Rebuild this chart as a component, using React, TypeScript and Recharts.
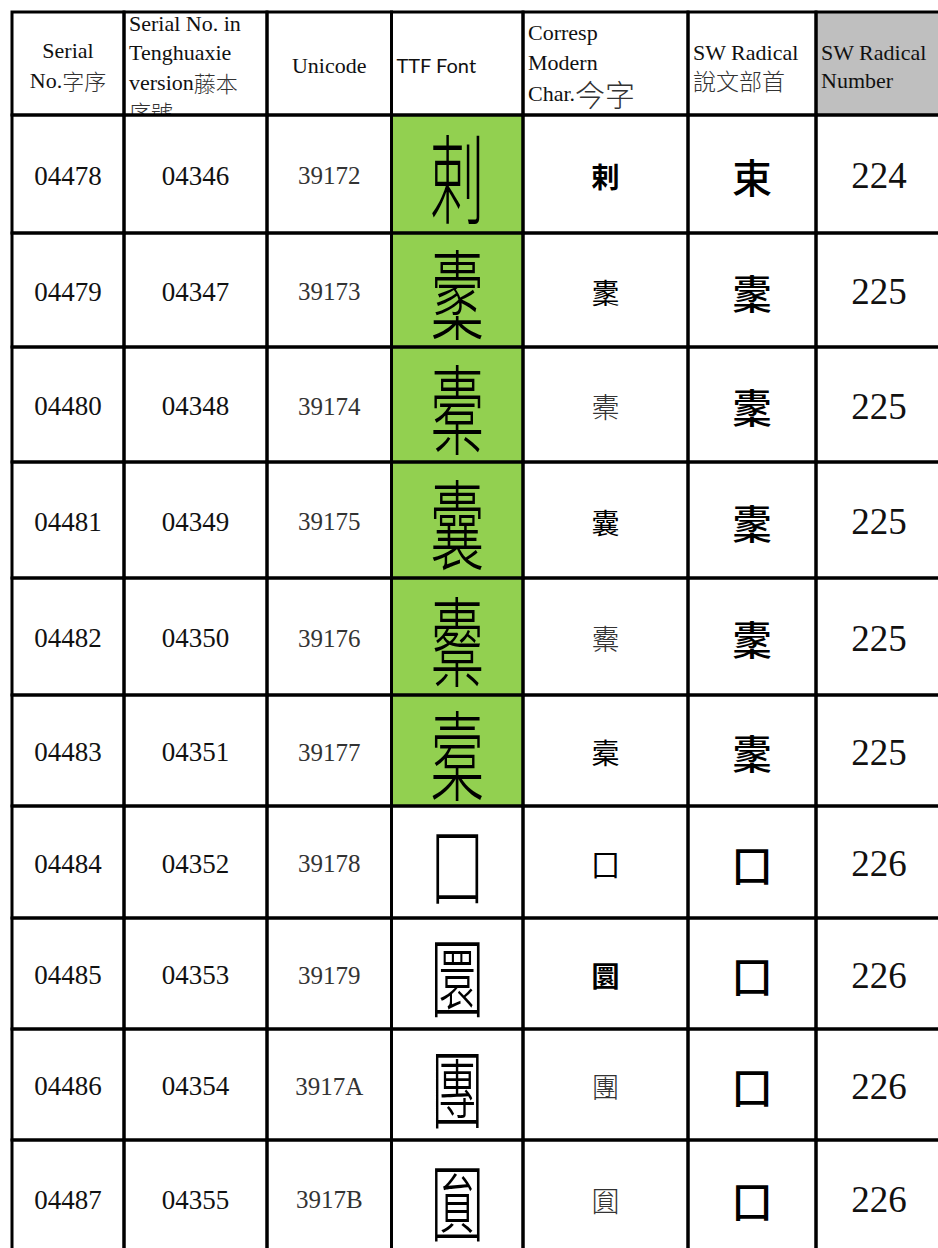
import React from 'react';
import { ScatterChart, Scatter, XAxis, YAxis } from 'recharts';

// table content
const headerLines = [
  ['Serial', 'No.字序'],
  ['Serial No. in', 'Tenghuaxie', 'version藤本', '序號'],
  ['Unicode'],
  ['TTF Font'],
  ['Corresp', 'Modern', 'Char.今字'],
  ['SW Radical', '說文部首'],
  ['SW Radical', 'Number'],
];
const serialNumbers = ['04478', '04479', '04480', '04481', '04482', '04483', '04484', '04485', '04486', '04487'];
const tenghuaNumbers = ['04346', '04347', '04348', '04349', '04350', '04351', '04352', '04353', '04354', '04355'];
const unicodePoints = ['39172', '39173', '39174', '39175', '39176', '39177', '39178', '39179', '3917A', '3917B'];
const sealGlyphs = ['剌', '㯻', '橐', '囊', '櫜', '槖', '囗', '圜', '團', '圎'];
const modernChars = ['剌', '㯻', '橐', '囊', '櫜', '槖', '囗', '圜', '團', '圎'];
const radicals = ['束', '㯻', '㯻', '㯻', '㯻', '㯻', '囗', '囗', '囗', '囗'];
const radicalNumbers = [224, 225, 225, 225, 225, 225, 226, 226, 226, 226];

// layout (pixels of the page)
const COL_EDGES = [12, 124, 267, 391.5, 523, 688, 816, 942];
const ROW_EDGES = [12, 115, 233, 347, 462, 578, 695, 806, 918, 1029, 1140, 1256];
const GREEN_ROWS = 6;
const HEADER_ALIGN = ['middle', 'start', 'middle', 'start', 'start', 'start', 'start'];
const HEADER_LINE_Y = [
  [38, 68],
  [11, 40, 70, 99],
  [53],
  [53],
  [20, 50, 81],
  [40, 68],
  [40, 68],
];
const HEADER_CJK_SIZE = [22, 22, 22, 22, 30, 23, 22];
const MODERN_WEIGHT = [700, 400, 300, 400, 300, 400, 400, 700, 300, 300];
const SEAL_STRETCH = [1.8, 1.8, 1.8, 1.8, 1.8, 1.8, 1.5, 1.6, 1.6, 1.55];

const SERIF = "'Liberation Serif', 'Noto Sans CJK TC', serif";
const CJK = "'Noto Sans CJK TC', sans-serif";

type CellDatum = { x: number; y: number; w: number; h: number; row: number; col: number };

const cells: CellDatum[] = [];
for (let r = 0; r < ROW_EDGES.length - 1; r++) {
  for (let c = 0; c < COL_EDGES.length - 1; c++) {
    cells.push({
      x: (COL_EDGES[c] + COL_EDGES[c + 1]) / 2,
      y: (ROW_EDGES[r] + ROW_EDGES[r + 1]) / 2,
      w: COL_EDGES[c + 1] - COL_EDGES[c],
      h: ROW_EDGES[r + 1] - ROW_EDGES[r],
      row: r,
      col: c,
    });
  }
}

const splitRuns = (s: string) => s.match(/[\u3400-\u9fff]+|[^\u3400-\u9fff]+/g) || [];
const isCjk = (s: string) => /[\u3400-\u9fff]/.test(s);

const HeaderText = ({ col, left, top, w, h, cx }: any) => {
  const clipId = `hclip-${col}`;
  const anchor = HEADER_ALIGN[col];
  const tx = anchor === 'middle' ? cx : left + 5;
  return (
    <g>
      <defs>
        <clipPath id={clipId}>
          <rect x={left} y={top} width={w} height={h} />
        </clipPath>
      </defs>
      <g clipPath={`url(#${clipId})`}>
        {headerLines[col].map((line, i) => (
          <text
            key={i}
            x={tx}
            y={top + HEADER_LINE_Y[col][i]}
            textAnchor={anchor}
            dominantBaseline="central"
            fontFamily={SERIF}
            fontSize={col === 3 ? 20 : 22}
            fill="#111"
          >
            {splitRuns(line).map((run, k) =>
              isCjk(run) ? (
                <tspan key={k} fontFamily={CJK} fontWeight={300} fontSize={HEADER_CJK_SIZE[col]} fill="#333">
                  {run}
                </tspan>
              ) : (
                <tspan key={k} fontFamily={col === 3 ? "Lato, 'Open Sans', sans-serif" : SERIF}>
                  {run}
                </tspan>
              )
            )}
          </text>
        ))}
      </g>
    </g>
  );
};

const CellFill = (props: any) => {
  const { cx, cy, payload } = props;
  const { w, h, row, col } = payload as CellDatum;
  const left = cx - w / 2;
  const top = cy - h / 2;
  let bg = 'none';
  if (row === 0 && col === 6) bg = '#bfbfbf';
  if (row >= 1 && row <= GREEN_ROWS && col === 3) bg = '#92d050';

  let content: React.ReactNode = null;
  if (row === 0) {
    content = <HeaderText col={col} left={left} top={top} w={w} h={h} cx={cx} />;
  } else {
    const i = row - 1;
    const common = { x: cx, y: cy + 1.5, textAnchor: 'middle' as const, dominantBaseline: 'central' as const };
    if (col === 0) content = <text {...common} fontFamily={SERIF} fontSize={27} fill="#111">{serialNumbers[i]}</text>;
    if (col === 1) content = <text {...common} fontFamily={SERIF} fontSize={27} fill="#111">{tenghuaNumbers[i]}</text>;
    if (col === 2) content = <text {...common} fontFamily={SERIF} fontSize={25} fill="#333">{unicodePoints[i]}</text>;
    if (col === 3)
      content = (
        <text
          transform={`translate(${cx} ${cy}) scale(1 ${SEAL_STRETCH[i]})`}
          textAnchor="middle"
          dominantBaseline="central"
          fontFamily={CJK}
          fontWeight={300}
          fontSize={54}
          fill="#000"
        >
          {sealGlyphs[i]}
        </text>
      );
    if (col === 4)
      content = (
        <text {...common} fontFamily={CJK} fontWeight={MODERN_WEIGHT[i]} fontSize={28} fill={MODERN_WEIGHT[i] < 400 ? '#333' : '#000'}>
          {modernChars[i]}
        </text>
      );
    if (col === 5) content = <text {...common} fontFamily={CJK} fontWeight={500} fontSize={40} fill="#000">{radicals[i]}</text>;
    if (col === 6) content = <text {...common} fontFamily={SERIF} fontSize={37} fill="#111">{radicalNumbers[i]}</text>;
  }

  return (
    <g>
      <rect x={left} y={top} width={w} height={h} fill={bg} stroke="none" />
      {content}
    </g>
  );
};

const CellBorder = (props: any) => {
  const { cx, cy, payload } = props;
  const { w, h } = payload as CellDatum;
  return <rect x={cx - w / 2} y={cy - h / 2} width={w} height={h} fill="none" stroke="#000" strokeWidth={3} />;
};

export default function App() {
  return (
    <div style={{ position: 'absolute', left: 0, top: 0, background: '#fff' }}>
      <ScatterChart width={938} height={1248} margin={{ top: 0, right: 0, bottom: 0, left: 0 }}>
        <XAxis type="number" dataKey="x" domain={[0, 938]} hide />
        <YAxis type="number" dataKey="y" domain={[0, 1248]} reversed hide />
        <Scatter data={cells} shape={CellFill} isAnimationActive={false} />
        <Scatter data={cells} shape={CellBorder} isAnimationActive={false} />
      </ScatterChart>
    </div>
  );
}
